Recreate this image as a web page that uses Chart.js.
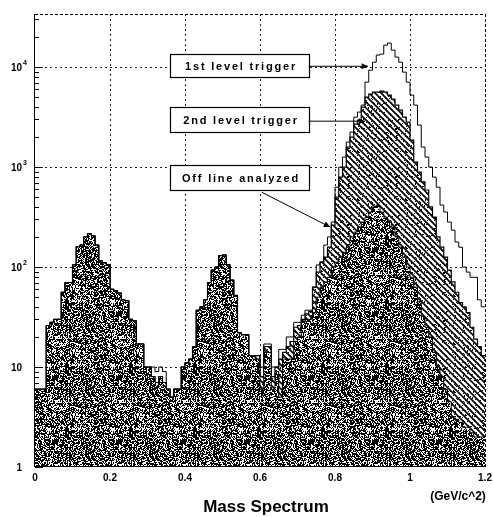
<!DOCTYPE html>
<html>
<head>
<meta charset="utf-8">
<script src="https://cdn.jsdelivr.net/npm/chart.js@4.4.1/dist/chart.umd.min.js"></script>
<style>
  html, body { margin: 0; padding: 0; background: #fff; }
</style>
</head>
<body>
<canvas id="massChart" width="493" height="517"></canvas>
<script>
// low edge of each 0.01 GeV/c^2 mass bin, 0 .. 1.19
const binWidth = 0.01;
const massBins = Array.from({length: 120}, (_, i) => +(i * binWidth).toFixed(2));

// entries per bin
const firstLevel = [
  6, 6, 6, 26, 28, 30, 30, 56, 70, 70,
  105, 160, 166, 200, 215, 205, 166, 115, 110, 105,
  60, 58, 55, 47, 46, 30, 29, 17, 17, 10,
  10, 10, 9, 10, 9, 6, 5, 6, 6, 10,
  11, 12, 16, 37, 40, 47, 70, 93, 100, 130,
  132, 105, 74, 52, 22, 21, 21, 13, 13, 13,
  10, 17, 17, 10, 10, 15, 15, 20, 20, 28,
  28, 33, 37, 37, 63, 105, 112, 166, 200, 282,
  630, 1000, 1260, 1780, 2240, 3160, 3550, 4170, 7080, 9330,
  11200, 13200, 13500, 16600, 17400, 14800, 12600, 11200, 8910, 7080,
  5250, 4170, 2630, 1585, 1260, 1000, 794, 630, 417, 355,
  282, 234, 178, 158, 100, 89, 79, 79, 47, 40
];
const secondLevel = [
  6, 6, 6, 26, 28, 30, 30, 56, 70, 70,
  105, 160, 166, 200, 215, 205, 166, 115, 110, 105,
  60, 58, 55, 47, 46, 30, 29, 17, 17, 10,
  10, 8, 7, 8, 7, 6, 5, 6, 6, 10,
  11, 12, 16, 37, 40, 47, 70, 93, 100, 130,
  132, 105, 74, 52, 22, 21, 21, 13, 13, 13,
  8, 16, 16, 8, 10, 12, 14, 16, 18, 25,
  26, 30, 34, 36, 63, 89, 112, 126, 158, 263,
  500, 794, 1000, 1585, 1995, 2690, 2950, 3980, 5010, 5370,
  5620, 5620, 5750, 5620, 5250, 4790, 4170, 3720, 3160, 2820,
  1860, 1120, 890, 710, 590, 400, 316, 200, 158, 126,
  93, 71, 56, 44, 40, 35, 25, 19, 16, 13
];
const offline = [
  6, 6, 6, 26, 28, 30, 30, 56, 70, 70,
  105, 160, 166, 200, 215, 205, 166, 115, 110, 105,
  60, 58, 55, 47, 46, 30, 29, 17, 17, 10,
  10, 8, 7, 8, 7, 6, 5, 6, 6, 10,
  11, 12, 16, 37, 40, 47, 70, 93, 100, 130,
  132, 105, 74, 52, 22, 21, 21, 13, 12, 12,
  6, 14, 14, 6, 9, 5, 12, 12, 12, 18,
  20, 28, 30, 30, 35, 50, 63, 71, 79, 100,
  112, 126, 141, 158, 200, 224, 251, 282, 316, 355,
  398, 417, 355, 316, 282, 251, 200, 158, 126, 100,
  79, 63, 45, 32, 25, 20, 14, 10, 8, 6,
  4.5, 3.2, 3, 2.8, 2.5, 2.5, 2.2, 2, 2, 2
];

const seriesNames = ['1st level trigger', '2nd level trigger', 'Off line analyzed'];
const xTicks = [0, 0.2, 0.4, 0.6, 0.8, 1, 1.2];
const xTickLabels = ['0', '0.2', '0.4', '0.6', '0.8', '1', '1.2'];
const yTicks = [1, 10, 100, 1000, 10000];
const yTickBase = ['1', '10', '10', '10', '10'];
const yTickPower = ['', '', '2', '3', '4'];

// text boxes with arrows, in data units: [x0, x1, yLow, yHigh], arrow from -> to
const notes = [
  {text: seriesNames[0], box: [0.36, 0.73, 7900, 13500], from: [0.73, 10200], to: [0.888, 10200]},
  {text: seriesNames[1], box: [0.36, 0.73, 2240, 3980], from: [0.73, 2880], to: [0.88, 2880]},
  {text: seriesNames[2], box: [0.36, 0.73, 590, 1047], from: [0.605, 560], to: [0.787, 251]}
];

function toSteps(arr) {
  const pts = arr.map((v, i) => ({x: massBins[i], y: v}));
  pts.push({x: 1.2, y: arr[arr.length - 1]});
  return pts;
}

// integer hash, used to scatter the white specks of the fill texture
function speck(xx, yy) {
  let h = (Math.imul(xx, 374761393) + Math.imul(yy, 668265263)) | 0;
  h = Math.imul(h ^ (h >>> 13), 1274126177);
  h ^= h >>> 16;
  return h & 255;
}

// fill textures
function stipplePattern() {
  const n = 64;
  const c = document.createElement('canvas');
  c.width = c.height = n;
  const g = c.getContext('2d');
  const img = g.createImageData(n, n);
  for (let yy = 0; yy < n; yy++) {
    for (let xx = 0; xx < n; xx++) {
      const v = speck(xx, yy) < 95 ? 255 : 0;
      const k = (yy * n + xx) * 4;
      img.data[k] = img.data[k + 1] = img.data[k + 2] = v;
      img.data[k + 3] = 255;
    }
  }
  g.putImageData(img, 0, 0);
  return g.createPattern(c, 'repeat');
}

function hatchPattern() {
  const n = 48;
  const c = document.createElement('canvas');
  c.width = c.height = n;
  const g = c.getContext('2d');
  g.fillStyle = '#fff';
  g.fillRect(0, 0, n, n);
  g.strokeStyle = '#000';
  g.lineWidth = 1.6;
  g.beginPath();
  for (let k = -n; k <= n; k += 6) {
    g.moveTo(k - 2, -2); g.lineTo(k + n + 2, n + 2);
  }
  g.stroke();
  // a few black specks between the strokes
  const img = g.getImageData(0, 0, n, n);
  for (let yy = 0; yy < n; yy++) {
    for (let xx = 0; xx < n; xx++) {
      if (speck(xx + 101, yy + 37) < 30) {
        const k = (yy * n + xx) * 4;
        img.data[k] = img.data[k + 1] = img.data[k + 2] = 0;
      }
    }
  }
  g.putImageData(img, 0, 0);
  return g.createPattern(c, 'repeat');
}

function arrowHead(ctx, x0, y0, x1, y1, size) {
  const ang = Math.atan2(y1 - y0, x1 - x0);
  ctx.beginPath();
  ctx.moveTo(x1, y1);
  ctx.lineTo(x1 - size * Math.cos(ang - 0.45), y1 - size * Math.sin(ang - 0.45));
  ctx.lineTo(x1 - size * Math.cos(ang + 0.45), y1 - size * Math.sin(ang + 0.45));
  ctx.closePath();
  ctx.fill();
}

const decor = {
  id: 'decor',
  beforeDatasetsDraw(chart) {
    const {ctx, chartArea: a, scales: {x, y}} = chart;
    ctx.save();
    ctx.strokeStyle = '#222';
    ctx.lineWidth = 1;
    ctx.setLineDash([2, 3]);
    ctx.beginPath();
    xTicks.slice(1, -1).forEach(v => {
      const px = Math.round(x.getPixelForValue(v)) + 0.5;
      ctx.moveTo(px, a.top); ctx.lineTo(px, a.bottom);
    });
    yTicks.slice(1).forEach(v => {
      const py = Math.round(y.getPixelForValue(v)) + 0.5;
      ctx.moveTo(a.left, py); ctx.lineTo(a.right, py);
    });
    ctx.stroke();
    ctx.restore();
  },
  afterDatasetsDraw(chart) {
    const {ctx, chartArea: a, scales: {x, y}} = chart;
    ctx.save();
    // frame
    ctx.strokeStyle = '#000';
    ctx.lineWidth = 1;
    ctx.setLineDash([3, 2]);
    ctx.beginPath();
    ctx.moveTo(a.left, a.top + 0.5); ctx.lineTo(a.right, a.top + 0.5);
    ctx.moveTo(a.right + 0.5, a.top); ctx.lineTo(a.right + 0.5, a.bottom);
    ctx.stroke();
    ctx.setLineDash([]);
    ctx.beginPath();
    ctx.moveTo(a.left - 0.5, a.top); ctx.lineTo(a.left - 0.5, a.bottom);
    ctx.moveTo(a.left, a.bottom - 0.5); ctx.lineTo(a.right, a.bottom - 0.5);
    // y ticks, major and minor, inside the frame
    for (let d = 1; d <= 10000; d *= 10) {
      for (let m = 1; m <= 9; m++) {
        const v = m * d;
        if (v > y.max) break;
        const py = Math.round(y.getPixelForValue(v)) + 0.5;
        const len = m === 1 ? 8 : 4;
        ctx.moveTo(a.left, py); ctx.lineTo(a.left + len, py);
      }
    }
    ctx.stroke();

    // label boxes and arrows
    ctx.font = 'bold 11px "Liberation Sans", Arial, sans-serif';
    ctx.letterSpacing = '1.8px';
    ctx.textAlign = 'center';
    ctx.textBaseline = 'middle';
    notes.forEach(n => {
      const bx0 = Math.round(x.getPixelForValue(n.box[0])) + 0.5;
      const bx1 = Math.round(x.getPixelForValue(n.box[1])) + 0.5;
      const by0 = Math.round(y.getPixelForValue(n.box[3])) + 0.5;
      const by1 = Math.round(y.getPixelForValue(n.box[2])) + 0.5;
      ctx.fillStyle = '#fff';
      ctx.fillRect(bx0, by0, bx1 - bx0, by1 - by0);
      ctx.strokeStyle = '#000';
      ctx.lineWidth = 1.2;
      ctx.strokeRect(bx0, by0, bx1 - bx0, by1 - by0);
      ctx.fillStyle = '#000';
      ctx.fillText(n.text, (bx0 + bx1) / 2 + 1, (by0 + by1) / 2 + 1);

      const ax0 = x.getPixelForValue(n.from[0]), ay0 = y.getPixelForValue(n.from[1]);
      const ax1 = x.getPixelForValue(n.to[0]), ay1 = y.getPixelForValue(n.to[1]);
      ctx.lineWidth = 1;
      ctx.beginPath();
      ctx.moveTo(ax0, ay0); ctx.lineTo(ax1, ay1);
      ctx.stroke();
      arrowHead(ctx, ax0, ay0, ax1, ay1, 7);
    });
    ctx.restore();
  },
  afterDraw(chart) {
    const {ctx, chartArea: a, scales: {y}} = chart;
    ctx.save();
    ctx.fillStyle = '#000';
    ctx.textBaseline = 'middle';
    yTicks.forEach((v, i) => {
      const py = y.getPixelForValue(v);
      ctx.textAlign = 'right';
      ctx.font = 'bold 10px "Liberation Sans", Arial, sans-serif';
      ctx.fillText(yTickBase[i], a.left - 13, py + 1);
      if (yTickPower[i]) {
        ctx.textAlign = 'left';
        ctx.font = 'bold 7px "Liberation Sans", Arial, sans-serif';
        ctx.fillText(yTickPower[i], a.left - 12, py - 4);
      }
    });
    ctx.textAlign = 'center';
    ctx.font = 'bold 12px "Liberation Sans", Arial, sans-serif';
    ctx.fillText('(GeV/c^2)', 458, a.bottom + 30);
    ctx.font = 'bold 17px "Liberation Sans", Arial, sans-serif';
    ctx.fillText('Mass Spectrum', 266, a.bottom + 40);
    ctx.restore();
  }
};

const stipple = stipplePattern();
const hatch = hatchPattern();

new Chart(document.getElementById('massChart'), {
  type: 'line',
  data: {
    datasets: [
      {label: seriesNames[0], data: toSteps(firstLevel), order: 0,
       borderColor: '#000', borderWidth: 1, backgroundColor: 'rgba(0,0,0,0)', fill: false},
      {label: seriesNames[2], data: toSteps(offline), order: 1,
       borderColor: '#000', borderWidth: 1, backgroundColor: stipple, fill: 'start'},
      {label: seriesNames[1], data: toSteps(secondLevel), order: 2,
       borderColor: '#000', borderWidth: 1.2, backgroundColor: hatch, fill: 'start'}
    ]
  },
  options: {
    responsive: false,
    animation: false,
    elements: {line: {stepped: true, tension: 0}, point: {radius: 0}},
    layout: {padding: {left: 0, right: 8, top: 14, bottom: 0}},
    plugins: {legend: {display: false}, tooltip: {enabled: false}},
    scales: {
      x: {
        type: 'linear', min: 0, max: 1.2,
        grid: {display: false, drawTicks: false},
        border: {display: false},
        afterBuildTicks: s => { s.ticks = xTicks.map(v => ({value: v})); },
        afterFit: s => { s.height = 50; s.paddingLeft = 0; s.paddingRight = 0; },
        ticks: {
          padding: 5, maxRotation: 0, autoSkip: false, color: '#000',
          font: {family: '"Liberation Sans", Arial, sans-serif', size: 10, weight: 'bold'},
          callback: (v, i) => xTickLabels[i]
        }
      },
      y: {
        type: 'logarithmic', min: 1, max: 34000,
        grid: {display: false, drawTicks: false},
        border: {display: false},
        ticks: {display: false},
        afterFit: s => { s.width = 35; }
      }
    }
  },
  plugins: [decor]
});
</script>
</body>
</html>
